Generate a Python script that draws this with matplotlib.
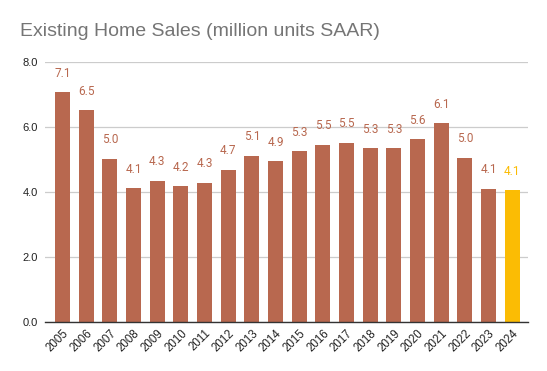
import matplotlib.pyplot as plt

plt.rcParams['font.family'] = ['Roboto', 'DejaVu Sans']

years = ['2005', '2006', '2007', '2008', '2009', '2010', '2011', '2012', '2013', '2014',
         '2015', '2016', '2017', '2018', '2019', '2020', '2021', '2022', '2023', '2024']
sales = [7.08, 6.52, 5.02, 4.12, 4.34, 4.18, 4.28, 4.68, 5.11, 4.95,
         5.26, 5.45, 5.51, 5.34, 5.34, 5.63, 6.12, 5.05, 4.10, 4.06]
labels = ['7.1', '6.5', '5.0', '4.1', '4.3', '4.2', '4.3', '4.7', '5.1', '4.9',
          '5.3', '5.5', '5.5', '5.3', '5.3', '5.6', '6.1', '5.0', '4.1', '4.1']

brown = '#b8684f'
yellow = '#fbbc04'
colors = [brown] * (len(years) - 1) + [yellow]

fig = plt.figure(figsize=(5.47, 3.71), dpi=100)
ax = fig.add_axes([0.0823, 0.1334, 0.8827, 0.6995])

x = range(len(years))
ax.bar(x, sales, width=0.63, color=colors, zorder=3)

for i, (v, lab) in enumerate(zip(sales, labels)):
    ax.annotate(lab, (i, v), xytext=(0, 11), textcoords='offset points',
                ha='center', va='baseline', fontsize=8.5, color=colors[i])

ax.set_xlim(-0.74, 19.66)
ax.set_ylim(0, 8)
ax.set_yticks([0, 2, 4, 6, 8])
ax.set_yticklabels(['0.0', '2.0', '4.0', '6.0', '8.0'], fontsize=8,
                   family=['Liberation Sans'])
ax.set_xticks(list(x))
ax.set_xticklabels(years, rotation=45, ha='right', rotation_mode='anchor', fontsize=8.3,
                   family=['Liberation Sans'])
ax.tick_params(axis='both', length=0, colors='#222222')
ax.tick_params(axis='y', pad=5)
ax.tick_params(axis='x', pad=4)

ax.grid(axis='y', color='#cccccc', linewidth=0.9, zorder=0)
for s in ['top', 'right', 'left']:
    ax.spines[s].set_visible(False)
ax.spines['bottom'].set_color('#333333')
ax.spines['bottom'].set_linewidth(1.0)
ax.spines['bottom'].set_zorder(4)

fig.text(0.037, 0.914, 'Existing Home Sales (million units SAAR)', fontsize=14,
         color='#757575', va='center', ha='left', family=['Liberation Sans'])

fig.savefig('out.png', dpi=100)
